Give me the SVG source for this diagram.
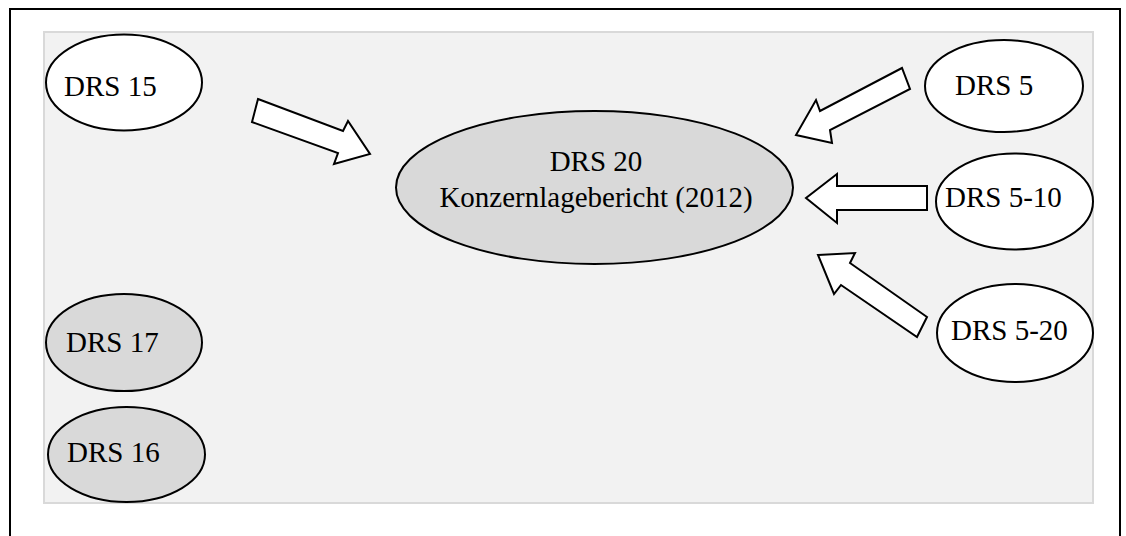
<svg xmlns="http://www.w3.org/2000/svg" width="1126" height="536" viewBox="0 0 1126 536">
<style>
.lbl{font-family:"Liberation Serif","Times New Roman",serif;font-size:29px;fill:#000}
.w{fill:#fff;stroke:#000;stroke-width:2}
.g{fill:#d9d9d9;stroke:#000;stroke-width:2}
.arr{fill:#fff;stroke:#000;stroke-width:2;stroke-linejoin:miter}
</style>
<rect x="10" y="9" width="1110" height="545" fill="#fff" stroke="#000" stroke-width="2"/>
<rect x="44" y="32" width="1049" height="471" fill="#f2f2f2" stroke="#d9d9d9" stroke-width="2"/>
<g id="connectors">
<polygon class="arr" points="258,99 343,131 348,121 370,154 334,164 338,153 252,122"/>
<polygon class="arr" points="902,68 820,111 816,100 796,135 832,143 830,130 910,89"/>
<polygon class="arr" points="927,186 837,186 837,174 806,198 837,223 837,210 927,210"/>
<polygon class="arr" points="818,255 855,253 850,263 927,317 917,337 841,285 834,294"/>
</g>
<g id="drs20">
<ellipse class="g" cx="594.5" cy="187.5" rx="198.5" ry="76.5"/>
<text class="lbl" x="596" y="171" text-anchor="middle">DRS 20</text>
<text class="lbl" x="596" y="207" text-anchor="middle">Konzernlagebericht (2012)</text>
</g>
<g id="drs15">
<ellipse class="w" cx="124" cy="82.5" rx="78" ry="48"/>
<text class="lbl" x="64" y="96">DRS 15</text>
</g>
<g id="drs5">
<ellipse class="w" cx="1004" cy="86" rx="79" ry="46"/>
<text class="lbl" x="955" y="95">DRS 5</text>
</g>
<g id="drs5-10">
<ellipse class="w" cx="1014.5" cy="201.5" rx="78.5" ry="48"/>
<text class="lbl" x="945" y="207">DRS 5-10</text>
</g>
<g id="drs5-20">
<ellipse class="w" cx="1015" cy="333" rx="78" ry="49"/>
<text class="lbl" x="951" y="340">DRS 5-20</text>
</g>
<g id="drs17">
<ellipse class="g" cx="124" cy="342.5" rx="78" ry="48.5"/>
<text class="lbl" x="66" y="352">DRS 17</text>
</g>
<g id="drs16">
<ellipse class="g" cx="126.5" cy="454.5" rx="78.5" ry="47.5"/>
<text class="lbl" x="67" y="462">DRS 16</text>
</g>
</svg>
